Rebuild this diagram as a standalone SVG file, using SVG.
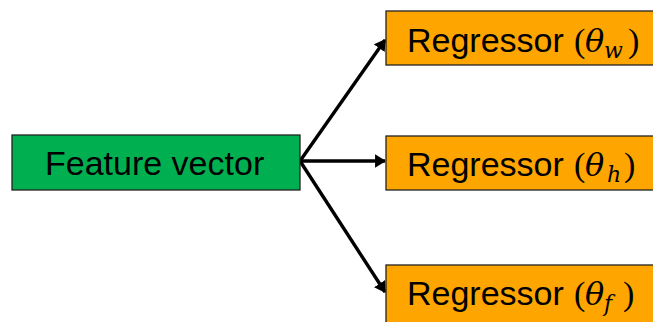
<svg xmlns="http://www.w3.org/2000/svg" width="653" height="322" viewBox="0 0 653 322">
  <style>
    .box { stroke: #222; stroke-width: 1.3; }
    .feat { fill: #00B050; }
    .reg { fill: #FFA500; }
    .lbl { font-family: "Liberation Sans", Arial, sans-serif; font-size: 34px; fill: #000; }
    .par { font-family: "Liberation Serif", "Times New Roman", serif; font-size: 34px; }
    .sym { font-family: "DejaVu Serif", "Liberation Serif", serif; font-style: italic; font-size: 32px; }
    .sub { font-family: "DejaVu Serif", "Liberation Serif", serif; font-style: italic; font-size: 22px; }
    .conn { stroke: #000; stroke-width: 3.4; fill: none; marker-end: url(#arrow); }
  </style>
  <defs>
    <marker id="arrow" viewBox="0 0 10 12" refX="9" refY="6" markerWidth="3.3" markerHeight="3.9" orient="auto" markerUnits="strokeWidth">
      <path d="M0,0 L10,6 L0,12 z" fill="#000"/>
    </marker>
  </defs>

  <g id="connectors">
    <line class="conn" x1="300" y1="161" x2="385" y2="40"/>
    <line class="conn" x1="300" y1="161" x2="385" y2="161"/>
    <line class="conn" x1="300" y1="161" x2="385" y2="292"/>
  </g>

  <g id="feature-vector">
    <rect class="box feat" x="12" y="135" width="288" height="55"/>
    <text class="lbl" x="45" y="175">Feature vector</text>
  </g>

  <g id="regressor-w">
    <rect class="box reg" x="386" y="11" width="280" height="54"/>
    <text class="lbl" x="407" y="52">Regressor<tspan class="par" x="574">(</tspan><tspan class="sym" x="585">θ</tspan><tspan class="sub" x="604" y="58">w</tspan><tspan class="par" x="628" y="52">)</tspan></text>
  </g>

  <g id="regressor-h">
    <rect class="box reg" x="386" y="136" width="280" height="54"/>
    <text class="lbl" x="407" y="176">Regressor<tspan class="par" x="574">(</tspan><tspan class="sym" x="585">θ</tspan><tspan class="sub" x="607" y="182">h</tspan><tspan class="par" x="624" y="176">)</tspan></text>
  </g>

  <g id="regressor-f">
    <rect class="box reg" x="386" y="265" width="280" height="70"/>
    <text class="lbl" x="407" y="305">Regressor<tspan class="par" x="574">(</tspan><tspan class="sym" x="585">θ</tspan><tspan class="sub" x="604" y="311">f</tspan><tspan class="par" x="623" y="305">)</tspan></text>
  </g>
</svg>
